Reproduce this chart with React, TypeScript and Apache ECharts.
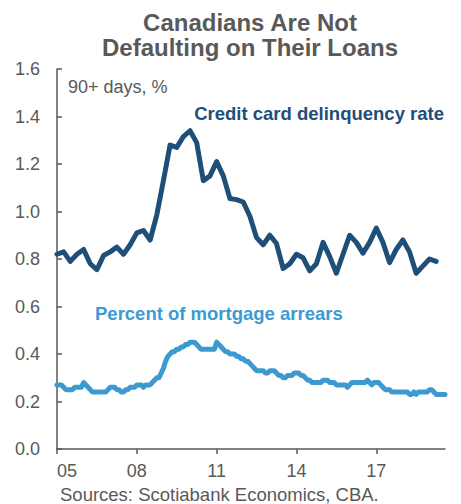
import React, { useEffect, useRef } from "react";
import * as echarts from "echarts";

// Monthly categories Jan 2005 .. Aug 2019
const START_YEAR = 2005;
const MONTH_COUNT = 176;
const months: string[] = Array.from({ length: MONTH_COUNT }, (_, i) => {
  const y = START_YEAR + Math.floor(i / 12);
  const m = (i % 12) + 1;
  return `${y}-${m < 10 ? "0" + m : m}`;
});

// Y-axis ticks
const yTicks = [0.0, 0.2, 0.4, 0.6, 0.8, 1.0, 1.2, 1.4, 1.6];
// X-axis tick labels (every 3 years)
const xTickLabels = ["05", "08", "11", "14", "17"];

// Credit card delinquency rate, quarterly (2005Q1 .. 2019Q2), %
const creditCard = [
  0.82, 0.83, 0.79, 0.82, 0.84, 0.78, 0.755, 0.815, 0.83, 0.85, 0.82, 0.86,
  0.91, 0.92, 0.88, 0.985, 1.13, 1.28, 1.27, 1.315, 1.34, 1.29, 1.13, 1.15,
  1.21, 1.15, 1.055, 1.05, 1.04, 0.98, 0.89, 0.86, 0.9, 0.865, 0.76, 0.78,
  0.82, 0.805, 0.75, 0.78, 0.87, 0.81, 0.74, 0.82, 0.9, 0.87, 0.825, 0.87,
  0.93, 0.87, 0.785, 0.84, 0.88, 0.83, 0.74, 0.77, 0.8, 0.79,
];

// Percent of mortgage arrears, monthly (2005-01 .. 2019-08), %
const mortgage = [
  // 2005
  0.27, 0.27, 0.27, 0.26, 0.25, 0.25, 0.25, 0.25, 0.26, 0.26, 0.26, 0.26,
  // 2006
  0.28, 0.27, 0.26, 0.25, 0.24, 0.24, 0.24, 0.24, 0.24, 0.24, 0.24, 0.25,
  // 2007
  0.26, 0.26, 0.26, 0.25, 0.25, 0.24, 0.24, 0.25, 0.25, 0.26, 0.26, 0.26,
  // 2008
  0.27, 0.27, 0.27, 0.26, 0.27, 0.27, 0.27, 0.28, 0.29, 0.3, 0.3, 0.32,
  // 2009
  0.34, 0.37, 0.39, 0.4, 0.41, 0.41, 0.42, 0.42, 0.43, 0.43, 0.44, 0.44,
  // 2010
  0.45, 0.45, 0.45, 0.44, 0.43, 0.42, 0.42, 0.42, 0.42, 0.42, 0.42, 0.42,
  // 2011
  0.45, 0.44, 0.43, 0.42, 0.41, 0.41, 0.4, 0.4, 0.4, 0.39, 0.39, 0.38,
  // 2012
  0.38, 0.37, 0.37, 0.36, 0.35, 0.34, 0.33, 0.33, 0.33, 0.33, 0.32, 0.32,
  // 2013
  0.33, 0.33, 0.33, 0.32, 0.31, 0.31, 0.3, 0.3, 0.31, 0.31, 0.31, 0.32,
  // 2014
  0.32, 0.32, 0.31, 0.31, 0.3, 0.29, 0.29, 0.28, 0.28, 0.28, 0.28, 0.28,
  // 2015
  0.29, 0.29, 0.29, 0.28, 0.28, 0.28, 0.27, 0.27, 0.27, 0.27, 0.27, 0.26,
  // 2016
  0.27, 0.28, 0.28, 0.28, 0.28, 0.28, 0.28, 0.28, 0.29, 0.28, 0.27, 0.28,
  // 2017
  0.28, 0.28, 0.27, 0.26, 0.25, 0.25, 0.25, 0.24, 0.24, 0.24, 0.24, 0.24,
  // 2018
  0.24, 0.24, 0.24, 0.23, 0.23, 0.24, 0.23, 0.24, 0.24, 0.24, 0.24, 0.24,
  // 2019
  0.25, 0.25, 0.24, 0.23, 0.23, 0.23, 0.23, 0.23,
];

const FONT = "'Liberation Sans', Arial, Helvetica, sans-serif";
const GREY = "#595959";
const DARK_BLUE = "#1F4E79";
const LIGHT_BLUE = "#3D9AD1";

export default function App() {
  const ref = useRef<HTMLDivElement>(null);

  useEffect(() => {
    if (!ref.current) return;
    const chart = echarts.init(ref.current, undefined, { renderer: "svg" });

    const creditData = creditCard.map((v, q) => [q * 3, v]);
    const showIdx = (i: number) => i % 36 === 0;

    chart.setOption({
      animation: false,
      backgroundColor: "#ffffff",
      grid: { left: 57, right: 16, top: 69, bottom: 55, containLabel: false },
      xAxis: {
        type: "category",
        data: months,
        boundaryGap: false,
        axisLine: { lineStyle: { color: GREY, width: 1.5 } },
        axisTick: {
          show: true,
          inside: false,
          length: 5,
          interval: (i: number) => showIdx(i),
          lineStyle: { color: GREY, width: 1.5 },
        },
        axisLabel: {
          interval: (i: number) => showIdx(i),
          formatter: (_v: string, i: number) => xTickLabels[i / 36] ?? "",
          color: GREY,
          fontFamily: FONT,
          fontSize: 18,
          margin: 13,
          alignMinLabel: "left",
        },
        splitLine: { show: false },
      },
      yAxis: {
        type: "value",
        min: yTicks[0],
        max: yTicks[yTicks.length - 1],
        interval: 0.2,
        axisLine: { show: true, lineStyle: { color: GREY, width: 1.5 } },
        axisTick: { show: true, inside: true, length: 5, lineStyle: { color: GREY, width: 1.5 } },
        axisLabel: {
          color: GREY,
          fontFamily: FONT,
          fontSize: 18,
          margin: 17,
          formatter: (v: number) => v.toFixed(1),
        },
        splitLine: { show: false },
      },
      series: [
        {
          name: "Credit card delinquency rate",
          type: "line",
          data: creditData,
          symbol: "none",
          lineStyle: { color: DARK_BLUE, width: 5, join: "round", cap: "round" },
        },
        {
          name: "Percent of mortgage arrears",
          type: "line",
          data: mortgage,
          symbol: "none",
          lineStyle: { color: LIGHT_BLUE, width: 5, join: "round", cap: "round" },
        },
      ],
      graphic: [
        {
          type: "text",
          x: 250,
          y: 10,
          style: {
            text: "Canadians Are Not\nDefaulting on Their Loans",
            fill: GREY,
            font: `bold 24px ${FONT}`,
            align: "center",
            verticalAlign: "top",
            lineHeight: 25,
          },
        },
        {
          type: "text",
          x: 68,
          y: 87,
          style: {
            text: "90+ days, %",
            fill: GREY,
            font: `18px ${FONT}`,
            align: "left",
            verticalAlign: "middle",
          },
        },
        {
          type: "text",
          x: 444,
          y: 113,
          style: {
            text: "Credit card delinquency rate",
            fill: DARK_BLUE,
            font: `bold 18.5px ${FONT}`,
            align: "right",
            verticalAlign: "middle",
          },
        },
        {
          type: "text",
          x: 95,
          y: 313,
          style: {
            text: "Percent of mortgage arrears",
            fill: LIGHT_BLUE,
            font: `bold 18.5px ${FONT}`,
            align: "left",
            verticalAlign: "middle",
          },
        },
        {
          type: "text",
          x: 60,
          y: 485,
          style: {
            text: "Sources: Scotiabank Economics, CBA.",
            fill: GREY,
            font: `18.5px ${FONT}`,
            align: "left",
            verticalAlign: "top",
          },
        },
      ],
    });

    return () => chart.dispose();
  }, []);

  return (
    <div
      ref={ref}
      style={{ position: "fixed", left: 0, top: 0, width: 461, height: 504 }}
    />
  );
}
